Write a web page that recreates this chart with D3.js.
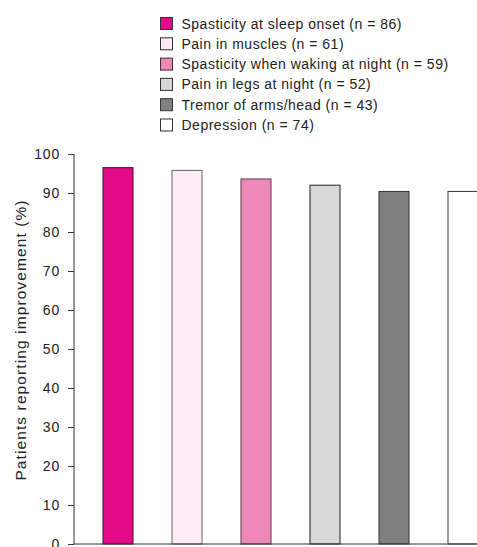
<!DOCTYPE html>
<html>
<head>
<meta charset="utf-8">
<script src="https://cdn.jsdelivr.net/npm/d3@7"></script>
<style>
  body { margin: 0; background: #fff; }
  svg text { font-family: "Liberation Sans", Arial, sans-serif; fill: #222; }
</style>
</head>
<body>
<div id="chart"></div>
<script>
// data
var categories = ["Spasticity at sleep onset", "Pain in muscles", "Spasticity when waking at night",
                  "Pain in legs at night", "Tremor of arms/head", "Depression"];
var counts = [86, 61, 59, 52, 43, 74];
var values = [96.5, 95.8, 93.6, 92.0, 90.4, 90.4];
var fills = ["#e10a88", "#fdebf5", "#ee88b9", "#d8d8d8", "#808080", "#ffffff"];
var strokes = ["#3a1428", "#666666", "#5a3a48", "#222222", "#333333", "#333333"];
var yTicks = [0, 10, 20, 30, 40, 50, 60, 70, 80, 90, 100];

var W = 477, H = 547;
var svg = d3.select("#chart").append("svg").attr("width", W).attr("height", H);

var y = d3.scaleLinear().domain([0, 100]).range([544, 154]);
var x = d3.scaleBand().domain(categories).range([83, 497]).paddingInner(0.565).paddingOuter(0.2825);

// y axis
var yAxis = svg.append("g")
  .attr("transform", "translate(74,0)")
  .call(d3.axisLeft(y).tickValues(yTicks).tickSize(6).tickPadding(8));
yAxis.select(".domain").attr("stroke", "#333").attr("d", "M0," + y(100) + "V" + y(0));
yAxis.selectAll(".tick line").attr("stroke", "#333");
yAxis.selectAll("text").style("font-size", "14px").style("letter-spacing", "0.8px")
  .style("font-family", "Liberation Sans, Arial, sans-serif").attr("fill", "#222");

// bars
svg.selectAll("rect.bar")
  .data(categories)
  .enter().append("rect")
  .attr("class", "bar")
  .attr("x", function(d){ return x(d) + 0.5; })
  .attr("y", function(d, i){ return y(values[i]); })
  .attr("width", x.bandwidth())
  .attr("height", function(d, i){ return y(0) - y(values[i]); })
  .attr("fill", function(d, i){ return fills[i]; })
  .attr("stroke", function(d, i){ return strokes[i]; })
  .attr("stroke-width", 1);

// x baseline
svg.append("line")
  .attr("x1", 74).attr("x2", W)
  .attr("y1", y(0)).attr("y2", y(0))
  .attr("stroke", "#333").attr("stroke-width", 1.2);

// y label
svg.append("text")
  .attr("transform", "translate(20,340) rotate(-90)")
  .attr("text-anchor", "middle")
  .attr("dominant-baseline", "central")
  .style("font-size", "15.5px")
  .style("letter-spacing", "1.1px")
  .text("Patients reporting improvement (%)");

// legend
var legend = svg.selectAll("g.leg")
  .data(categories)
  .enter().append("g")
  .attr("class", "leg")
  .attr("transform", function(d, i){ return "translate(160," + (17 + i * 20.3) + ")"; });

legend.append("rect")
  .attr("x", 0.5).attr("y", 0.5)
  .attr("width", 12).attr("height", 12)
  .attr("fill", function(d, i){ return fills[i]; })
  .attr("stroke", "#333");

legend.append("text")
  .attr("x", 21.5).attr("y", 6.5)
  .attr("dominant-baseline", "central")
  .style("font-size", "14px")
  .style("letter-spacing", "0.5px")
  .text(function(d, i){ return d + " (n = " + counts[i] + ")"; });
</script>
</body>
</html>
